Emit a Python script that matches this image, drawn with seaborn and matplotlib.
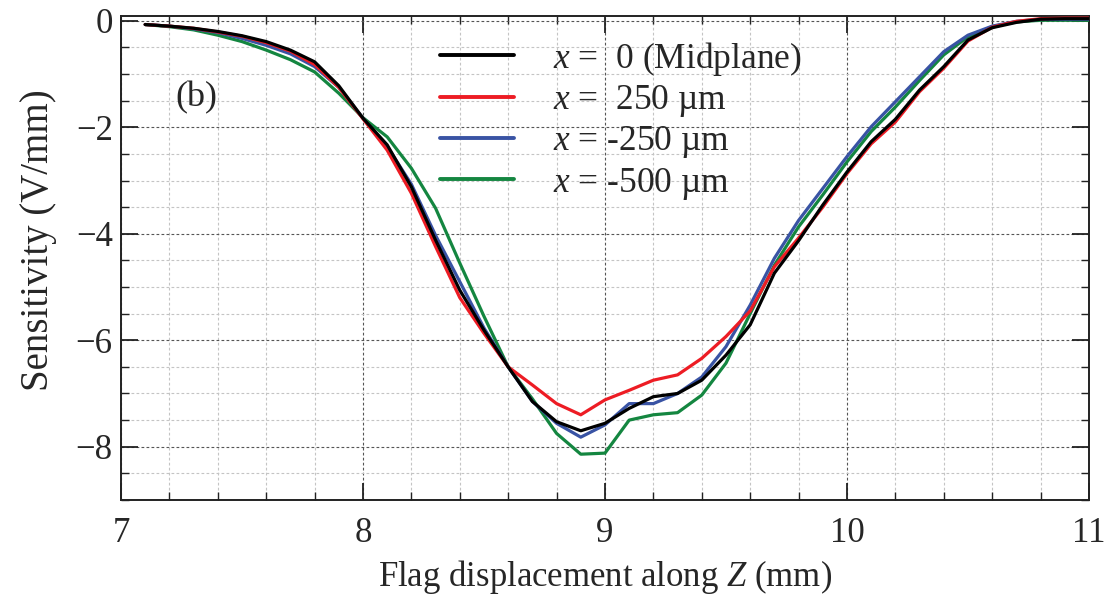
import numpy as np
import pandas as pd
import seaborn as sns
import matplotlib
matplotlib.use("Agg")
import matplotlib.pyplot as plt
from matplotlib.ticker import MultipleLocator

# Flag displacement along Z (mm)
z_mm = [7.1, 7.2, 7.3, 7.4, 7.5, 7.6, 7.7, 7.8, 7.9, 8.0,
        8.1, 8.2, 8.3, 8.4, 8.5, 8.6, 8.7, 8.8, 8.9, 9.0,
        9.1, 9.2, 9.3, 9.4, 9.5, 9.6, 9.7, 9.8, 9.9, 10.0,
        10.1, 10.2, 10.3, 10.4, 10.5, 10.6, 10.7, 10.8, 10.9, 11.0]

# Sensitivity (V/mm) for each transverse offset x
sens_mid = [-0.07, -0.10, -0.14, -0.20, -0.28, -0.39, -0.55, -0.77, -1.22, -1.83,
            -2.33, -3.12, -4.12, -5.06, -5.81, -6.50, -7.15, -7.53, -7.70, -7.56,
            -7.28, -7.06, -7.00, -6.75, -6.28, -5.71, -4.74, -4.13, -3.46, -2.84,
            -2.27, -1.85, -1.30, -0.86, -0.36, -0.13, -0.03, 0.03, 0.04, 0.04]
sens_p250 = [-0.07, -0.10, -0.14, -0.21, -0.29, -0.41, -0.57, -0.82, -1.25, -1.84,
             -2.43, -3.24, -4.24, -5.20, -5.87, -6.50, -6.84, -7.19, -7.40, -7.12,
             -6.94, -6.75, -6.65, -6.34, -5.93, -5.45, -4.62, -4.08, -3.50, -2.87,
             -2.31, -1.90, -1.33, -0.89, -0.38, -0.12, -0.01, 0.04, 0.05, 0.05]
sens_m250 = [-0.07, -0.10, -0.15, -0.22, -0.33, -0.46, -0.62, -0.86, -1.25, -1.83,
             -2.36, -3.07, -4.03, -4.90, -5.77, -6.50, -7.15, -7.56, -7.82, -7.59,
             -7.19, -7.19, -7.00, -6.69, -6.12, -5.34, -4.46, -3.75, -3.15, -2.55,
             -1.99, -1.52, -1.05, -0.58, -0.27, -0.10, -0.01, 0.03, 0.03, 0.03]
sens_m500 = [-0.07, -0.11, -0.17, -0.27, -0.39, -0.55, -0.73, -0.96, -1.36, -1.82,
             -2.18, -2.77, -3.52, -4.55, -5.55, -6.50, -7.10, -7.75, -8.14, -8.12,
             -7.50, -7.40, -7.36, -7.03, -6.43, -5.50, -4.59, -3.87, -3.27, -2.65,
             -2.08, -1.62, -1.12, -0.64, -0.30, -0.11, -0.02, 0.01, 0.01, 0.01]

series_labels = [r"$x$ =  0 (Midplane)", r"$x$ =  250 µm",
                 r"$x$ = -250 µm", r"$x$ = -500 µm"]
series_values = [sens_mid, sens_p250, sens_m250, sens_m500]
series_colors = ["#000000", "#ed1c24", "#3953a4", "#148640"]

x_ticks = [7, 8, 9, 10, 11]
y_ticks = [0, -2, -4, -6, -8]

sns.set_theme(style="white")
plt.rcParams["font.family"] = ["Liberation Serif", "DejaVu Serif"]
plt.rcParams["mathtext.fontset"] = "custom"
plt.rcParams["mathtext.rm"] = "Liberation Serif"
plt.rcParams["mathtext.it"] = "Liberation Serif:italic"
plt.rcParams["axes.unicode_minus"] = True

frames = []
for lab, vals in zip(series_labels, series_values):
    frames.append(pd.DataFrame({"z": z_mm, "s": vals, "series": lab}))
df = pd.concat(frames, ignore_index=True)

fig = plt.figure(figsize=(11.07, 6.0), dpi=100)
ax = fig.add_axes([0.1093, 0.1667, 0.8744, 0.8066])

# draw back-to-front so the midplane curve sits on top
zorders = [6, 5, 4, 3]
for lab, col, zo in zip(series_labels, series_colors, zorders):
    sns.lineplot(data=df[df["series"] == lab], x="z", y="s", color=col,
                 linewidth=2.3, label=lab, ax=ax, zorder=zo, sort=False)

ax.set_xlim(7, 11)
ax.set_ylim(-9, 0.09)
ax.set_xticks(x_ticks)
ax.set_yticks(y_ticks)
ax.set_yticklabels(["0" if t == 0 else "\u2212" + str(abs(t)) for t in y_ticks])
ax.xaxis.set_minor_locator(MultipleLocator(0.2))
ax.yaxis.set_minor_locator(MultipleLocator(0.5))

ax.grid(which="major", color="#555555", linestyle=(0, (2.5, 2)), linewidth=0.8)
ax.grid(which="minor", color="#c4c4c4", linestyle=(0, (2.5, 2)), linewidth=0.8)
ax.set_axisbelow(True)

ax.tick_params(which="both", direction="in", top=True, right=True,
               bottom=True, left=True, color="#222222")
ax.tick_params(which="major", length=12, width=1.3, labelsize=25)
ax.tick_params(which="minor", length=6, width=1.0)
ax.tick_params(axis="x", which="major", pad=12)
ax.tick_params(axis="y", which="major", pad=6)
for sp in ax.spines.values():
    sp.set_color("#222222")
    sp.set_linewidth(1.4)

ax.set_xlabel(r"Flag displacement along $Z$ (mm)", fontsize=25, labelpad=6)
ax.set_ylabel("Sensitivity (V/mm)", fontsize=28)
ax.yaxis.set_label_coords(-0.066, 0.537)

ax.text(7.31, -1.45, "(b)", fontsize=26, ha="center", va="center")

leg = ax.legend(loc="upper left", bbox_to_anchor=(0.3295, 0.951), frameon=False,
                fontsize=25.5, handlelength=2.1, handletextpad=1.1,
                labelspacing=0.15, borderaxespad=0, borderpad=0)
for h in leg.get_lines():
    h.set_linewidth(2.8)

fig.savefig("out.png", dpi=100, facecolor="white")
